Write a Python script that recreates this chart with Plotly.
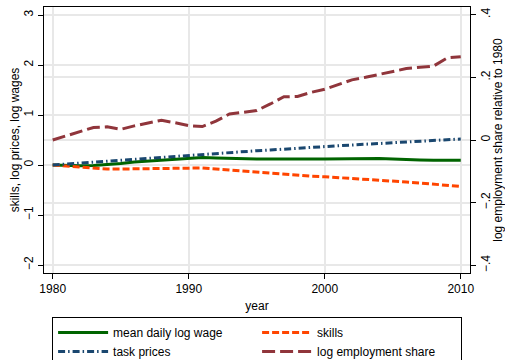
import plotly.graph_objects as go

years = list(range(1980, 2011))

mean_daily_log_wage = [0.0, -0.01, -0.015, -0.01, 0.005, 0.03, 0.06, 0.08, 0.10, 0.12,
                       0.14, 0.15, 0.14, 0.13, 0.125, 0.12, 0.12, 0.115, 0.12, 0.12,
                       0.12, 0.125, 0.13, 0.14, 0.13, 0.12, 0.105, 0.10, 0.095, 0.10, 0.095]

skills = [0.0, -0.02, -0.05, -0.07, -0.08, -0.08, -0.075, -0.07, -0.065, -0.06,
          -0.055, -0.06, -0.08, -0.10, -0.125, -0.15, -0.175, -0.195, -0.21, -0.225,
          -0.235, -0.25, -0.27, -0.29, -0.31, -0.32, -0.34, -0.36, -0.385, -0.41, -0.43]

task_prices = [0.0, 0.02, 0.04, 0.06, 0.08, 0.10, 0.12, 0.14, 0.16, 0.18,
               0.20, 0.22, 0.24, 0.255, 0.27, 0.285, 0.30, 0.32, 0.335, 0.35,
               0.37, 0.385, 0.40, 0.415, 0.43, 0.45, 0.465, 0.475, 0.49, 0.505, 0.52]

log_employment_share = [0.0, 0.013, 0.027, 0.040, 0.042, 0.034, 0.045, 0.055, 0.063, 0.055,
                        0.046, 0.043, 0.060, 0.083, 0.088, 0.094, 0.115, 0.138, 0.139, 0.152,
                        0.162, 0.178, 0.192, 0.200, 0.210, 0.218, 0.228, 0.232, 0.236, 0.262, 0.266]

x_ticks = [1980, 1990, 2000, 2010]
left_ticks = [-2, -1, 0, 1, 2, 3]
left_ticktext = ["\u22122", "\u22121", "0", "1", "2", "3"]
right_ticks = [-0.4, -0.2, 0, 0.2, 0.4]
right_ticktext = ["\u2212.4", "\u2212.2", "0", ".2", ".4"]

FONT = "Liberation Sans, Arial, Helvetica, sans-serif"
GRID = "#e8e8e8"

fig = go.Figure()
fig.add_trace(go.Scatter(x=years, y=mean_daily_log_wage, mode="lines",
                         name="mean daily log wage",
                         line=dict(color="#006400", width=3)))
fig.add_trace(go.Scatter(x=years, y=skills, mode="lines", name="skills",
                         line=dict(color="#ff4500", width=3, dash="7px,3px")))
fig.add_trace(go.Scatter(x=years, y=task_prices, mode="lines", name="task prices",
                         line=dict(color="#1a476f", width=3, dash="7px,3px,1.5px,3px")))
fig.add_trace(go.Scatter(x=years, y=log_employment_share, mode="lines",
                         name="log employment share", yaxis="y2",
                         line=dict(color="#90353b", width=3, dash="13px,5px")))

axis_common = dict(
    showline=True, linecolor="black", linewidth=1,
    ticks="outside", ticklen=5, tickcolor="black",
    showgrid=True, gridcolor=GRID, gridwidth=1.5, zeroline=False,
    tickfont=dict(family=FONT, size=12, color="black"),
)

fig.update_layout(
    width=505, height=360,
    margin=dict(l=44, r=35, t=7, b=87, autoexpand=False),
    paper_bgcolor="white", plot_bgcolor="white",
    font=dict(family=FONT, size=12, color="black"),
    xaxis=dict(axis_common, range=[1979.36, 2010.68], tickvals=x_ticks,
               mirror=True, gridwidth=2,
               title=dict(text="year", standoff=6,
                          font=dict(family=FONT, size=12))),
    yaxis=dict(axis_common, range=[-2.16, 3.16], tickvals=left_ticks,
               ticktext=left_ticktext, tickangle=-90,
               title=dict(text="skills, log prices, log wages", standoff=0,
                          font=dict(family=FONT, size=12))),
    yaxis2=dict(axis_common, range=[-0.4245, 0.4245], tickvals=right_ticks,
                ticktext=right_ticktext, tickangle=-90,
                overlaying="y", side="right",
                title=dict(text="log employment share relative to 1980", standoff=0,
                           font=dict(family=FONT, size=12))),
    showlegend=True,
    legend=dict(orientation="h", x=0.019, xanchor="left", y=-0.165, yanchor="top",
                bordercolor="black", borderwidth=1, bgcolor="white",
                itemwidth=50, entrywidth=139, entrywidthmode="pixels",
                font=dict(family=FONT, size=12, color="black"),
                traceorder="normal"),
)

fig.write_html("out.html")
